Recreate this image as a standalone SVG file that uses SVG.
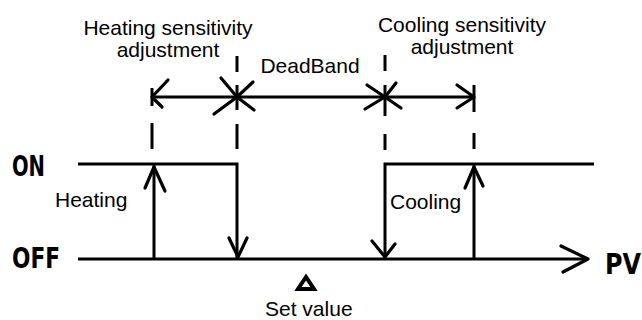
<svg xmlns="http://www.w3.org/2000/svg" width="642" height="320" viewBox="0 0 642 320">
<style>
.ln{stroke:#000;stroke-width:3;fill:none;stroke-linecap:butt;stroke-linejoin:miter}
.ah{stroke:#000;stroke-width:3.2;fill:none;stroke-linecap:round;stroke-linejoin:round}
.dash{stroke:#000;stroke-width:3;fill:none}
.t{font-family:"Liberation Sans",Arial,sans-serif;font-size:21px;fill:#000}
.big{font-family:"DejaVu Sans Condensed","DejaVu Sans",sans-serif;font-size:28px;font-weight:bold;fill:#000}
</style>
<rect width="642" height="320" fill="#fff"/>

<g id="labels-top">
<text class="t" x="168" y="35" text-anchor="middle">Heating sensitivity</text>
<text class="t" x="168" y="57" text-anchor="middle">adjustment</text>
<text class="t" x="310" y="73" text-anchor="middle">DeadBand</text>
<text class="t" x="462" y="32" text-anchor="middle">Cooling sensitivity</text>
<text class="t" x="462" y="54" text-anchor="middle">adjustment</text>
</g>

<g id="guides">
<line class="dash" x1="152" y1="123" x2="152" y2="149"/>
<line class="dash" x1="152" y1="88" x2="152" y2="106"/>
<line class="dash" x1="237" y1="56" x2="237" y2="72"/>
<line class="dash" x1="237" y1="85" x2="237" y2="110"/>
<line class="dash" x1="237" y1="124" x2="237" y2="149"/>
<line class="dash" x1="385" y1="55" x2="385" y2="71"/>
<line class="dash" x1="385" y1="85" x2="385" y2="116"/>
<line class="dash" x1="385" y1="134" x2="385" y2="150"/>
<line class="dash" x1="474" y1="85" x2="474" y2="112"/>
<line class="dash" x1="474" y1="133" x2="474" y2="149"/>
</g>

<g id="connectors">
<line class="ln" x1="152" y1="97" x2="474" y2="97"/>
<polyline class="ah" points="168,80 152,97 162,107"/>
<polyline class="ah" points="221,78 237,97 214,114"/>
<polyline class="ah" points="253,82 237,97 254,110"/>
<polyline class="ah" points="367,85 385,97 365,109"/>
<polyline class="ah" points="396,83 385,97 401,108"/>
<polyline class="ah" points="457,85 474,97 457,108"/>

<polyline class="ln" points="78,164 237,164 237,259"/>
<line class="ln" x1="154" y1="259" x2="154" y2="164"/>
<polyline class="ah" points="145,188 154,167 165,191"/>
<polyline class="ah" points="229,238 238,257 247,238"/>

<polyline class="ln" points="594,164 385,164 385,259"/>
<line class="ln" x1="474" y1="259" x2="474" y2="164"/>
<polyline class="ah" points="465,188 474,167 483,186"/>
<polyline class="ah" points="372,241 385,257 395,244"/>

<line class="ln" x1="78" y1="259" x2="588" y2="259"/>
<polyline class="ah" points="561,246 588,259 563,272"/>
</g>

<g id="axis-labels">
<text class="big" x="12" y="176" textLength="33" lengthAdjust="spacingAndGlyphs">ON</text>
<text class="big" x="12" y="268" textLength="48" lengthAdjust="spacingAndGlyphs">OFF</text>
<text class="big" x="605" y="274" textLength="36" lengthAdjust="spacingAndGlyphs">PV</text>
</g>

<g id="state-labels">
<text class="t" x="55" y="207">Heating</text>
<text class="t" x="390" y="209">Cooling</text>
</g>

<g id="set-value">
<polygon points="306,277 298,289 314,289" fill="none" stroke="#000" stroke-width="4" stroke-linejoin="miter"/>
<text class="t" x="265" y="316">Set value</text>
</g>
</svg>
